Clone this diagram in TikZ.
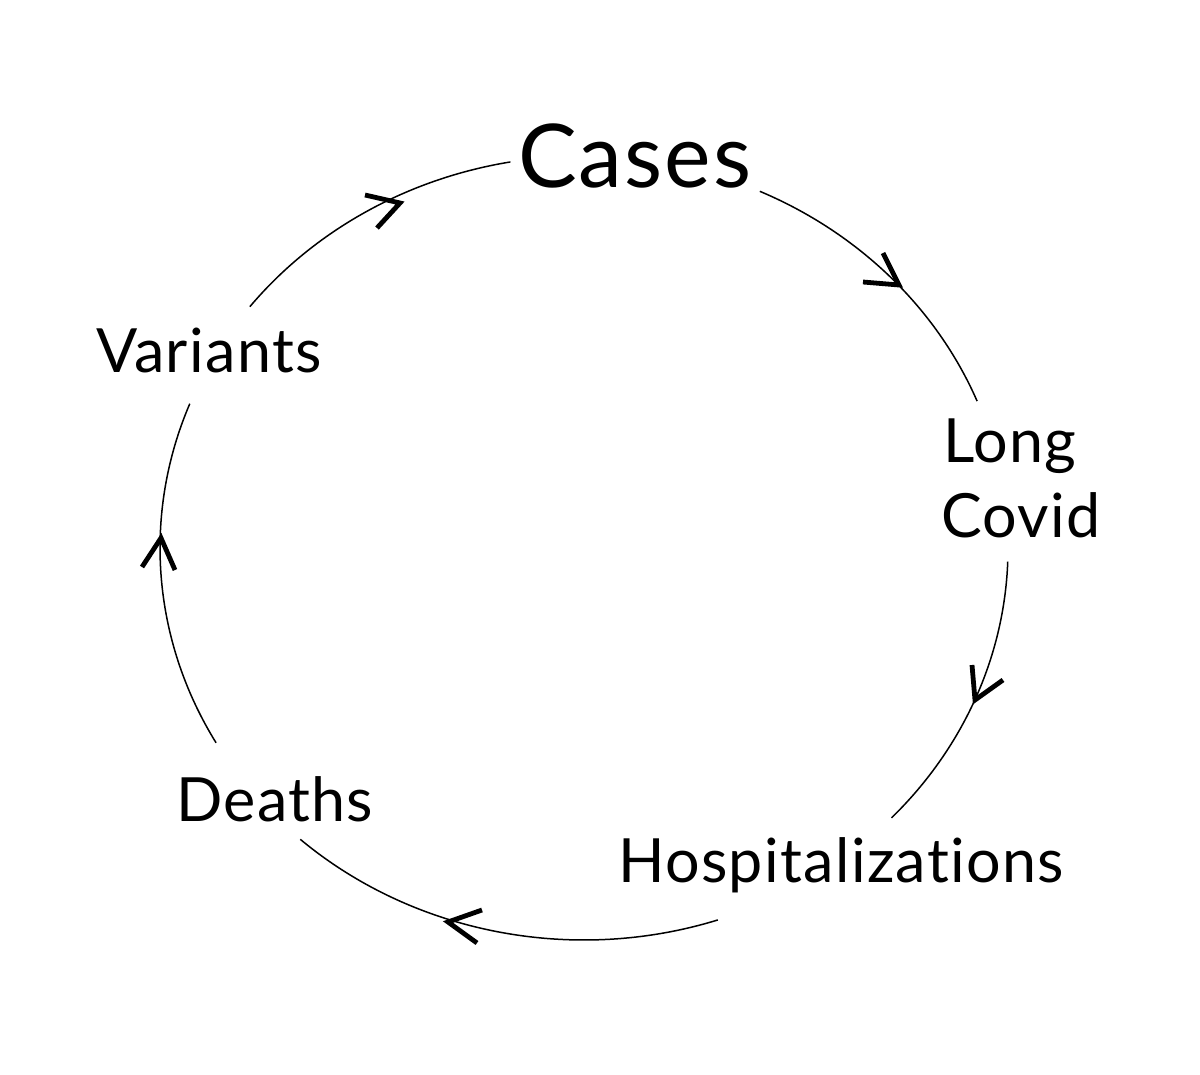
\documentclass[tikz,border=0pt]{standalone}
\usepackage{fontspec}
\setmainfont{Lato}[Ligatures=NoCommon, LetterSpace=2.2]
\begin{document}
\begin{tikzpicture}[x=1pt,y=1pt,
  lbl/.style={inner sep=0pt, anchor=base west, font=\fontsize{61}{61}\selectfont},
  ring/.style={line width=1.5pt, black},
  chev/.style={line width=4.8pt, black, line join=miter, line cap=butt}]
\useasboundingbox (0,0) rectangle (1200,-1075);
\fill[white] (0,0) rectangle (1200,-1075);
% labels
\node[lbl, font=\fontsize{88}{88}\selectfont] (cases) at (518,-188) {Cases};
\node[lbl] (variants) at (96,-373) {Variants};
\node[lbl] (long) at (943,-462) {Long};
\node[lbl] (covid) at (941,-537) {Covid};
\node[lbl] (deaths) at (176,-821) {Deaths};
\node[lbl] (hosp) at (618,-882) {Hospitalizations};
% arc end points
\def\cx{584}\def\cy{-548}\def\rx{424}\def\ry{392}
\coordinate (a1) at ({\cx+\rx*cos(142)},{\cy+\ry*sin(142)});
\coordinate (a2) at ({\cx+\rx*cos(65.5)},{\cy+\ry*sin(65.5)});
\coordinate (a3) at ({\cx+\rx*cos(-2)},{\cy+\ry*sin(-2)});
\coordinate (a4) at ({\cx+\rx*cos(-71.6)},{\cy+\ry*sin(-71.6)});
\coordinate (a5) at ({\cx+\rx*cos(209.8)},{\cy+\ry*sin(209.8)});
\draw[ring] (a1) arc[start angle=142, end angle=100, x radius=\rx, y radius=\ry];
\draw[ring] (a2) arc[start angle=65.5, end angle=22, x radius=\rx, y radius=\ry];
\draw[ring] (a3) arc[start angle=-2, end angle=-43.5, x radius=\rx, y radius=\ry];
\draw[ring] (a4) arc[start angle=-71.6, end angle=-132, x radius=\rx, y radius=\ry];
\draw[ring] (a5) arc[start angle=209.8, end angle=158.4, x radius=\rx, y radius=\ry];
% arrowheads
\draw[chev] (365,-195) -- (400,-203) -- (377,-228);
\draw[chev] (883,-253) -- (899,-285) -- (863,-282);
\draw[chev] (972,-665) -- (975,-700) -- (1003,-680);
\draw[chev] (482,-910) -- (448,-922) -- (477,-943);
\draw[chev] (142,-567) -- (161,-538) -- (175,-570);
\end{tikzpicture}
\end{document}
